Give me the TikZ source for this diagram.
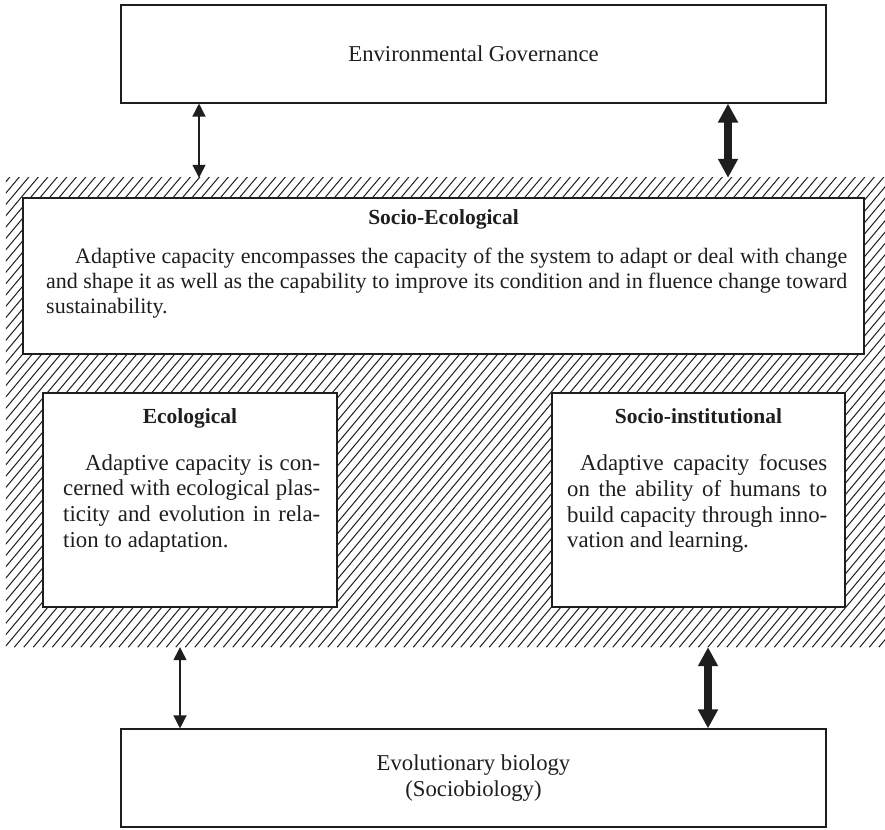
\documentclass[tikz,border=0pt]{standalone}
\usepackage{fontspec}
\setmainfont{Liberation Serif}
\usetikzlibrary{arrows.meta,calc}
\definecolor{ink}{HTML}{1E1E1E}
\begin{document}
\begin{tikzpicture}[x=1pt,y=1pt,
  box/.style={draw=ink, line width=1.1pt, fill=white, inner sep=0pt},
  hatch/.style={draw=ink, line width=1pt},
  bigtext/.style={font=\fontsize{22.7}{26}\selectfont, text=ink},
  head/.style={font=\fontsize{21.5}{25}\selectfont\bfseries, text=ink, inner sep=0pt},
  body/.style={font=\fontsize{22.8}{25.9}\selectfont, text=ink, inner sep=0pt, align=justify},
  widebody/.style={font=\fontsize{22}{24.8}\selectfont, text=ink, inner sep=0pt, align=justify},
  thinarrow/.style={draw=ink, line width=1.3pt,
    {Triangle[width=13pt,length=13pt]}-{Triangle[width=13pt,length=13pt]}},
  thickarrow/.style={draw=ink, line width=7.5pt,
    {Triangle[width=19pt,length=19pt]}-{Triangle[width=19pt,length=19pt]}}
]
\useasboundingbox (0,0) rectangle (885,829);

% hatched field holding the three adaptive-capacity boxes
\node[inner sep=0pt, minimum width=879pt, minimum height=469pt] (field) at (445.5,416.5) {};
\begin{scope}
  \clip (field.south west) rectangle (field.north east);
  \foreach \k in {0,...,136}
    \draw[hatch] ($(field.south west)+(\k*9.5-400,0)$) -- ++(400,476.7);
\end{scope}

% outer boxes
\node[box, bigtext, minimum width=705pt, minimum height=98pt] (gov) at (473.5,775) {Environmental Governance};
\node[box, bigtext, align=center, minimum width=705pt, minimum height=98pt] (evo) at (473.5,51)
  {Evolutionary biology\\(Sociobiology)};

% inner boxes
\node[box, minimum width=841pt, minimum height=156pt] (se) at (443.5,553) {};
\node[box, minimum width=294pt, minimum height=214pt] (eco) at (190,329) {};
\node[box, minimum width=293pt, minimum height=214pt] (si) at (698.5,329) {};

% box texts
\node[head, anchor=base] (sehead) at (se.north |- 0,604) {Socio-Ecological};
\node[widebody, text width=801pt, anchor=north west] (sebody) at (46,581)
  {\hspace*{29pt}Adaptive capacity encompasses the capacity of the system to adapt or deal with change\linebreak
   and shape it as well as the capability to improve its condition and in fluence change toward\linebreak
   sustainability.};

\node[head, anchor=base] (ecohead) at (eco.north |- 0,405) {Ecological};
\node[body, text width=257pt, anchor=north west] (ecobody) at (63,375)
  {\hspace*{22pt}Adaptive capacity is con-\linebreak
   cerned with ecological plas-\linebreak
   ticity and evolution in rela-\linebreak
   tion to adaptation.};

\node[head, anchor=base] (sihead) at (si.north |- 0,405) {Socio-institutional};
\node[body, text width=260pt, anchor=north west] (sibody) at (567,375)
  {\hspace*{13pt}Adaptive capacity focuses\linebreak
   on the ability of humans to\linebreak
   build capacity through inno-\linebreak
   vation and learning.};

% links between levels
\coordinate (xa) at (199,0);
\coordinate (xb) at (728,0);
\coordinate (xc) at (180,0);
\coordinate (xd) at (708,0);
\draw[thinarrow] (gov.south -| xa) -- (field.north -| xa);
\draw[thickarrow] (gov.south -| xb) -- (field.north -| xb);
\draw[thinarrow] (field.south -| xc) -- (evo.north -| xc);
\draw[thickarrow] (field.south -| xd) -- (evo.north -| xd);
\end{tikzpicture}
\end{document}
